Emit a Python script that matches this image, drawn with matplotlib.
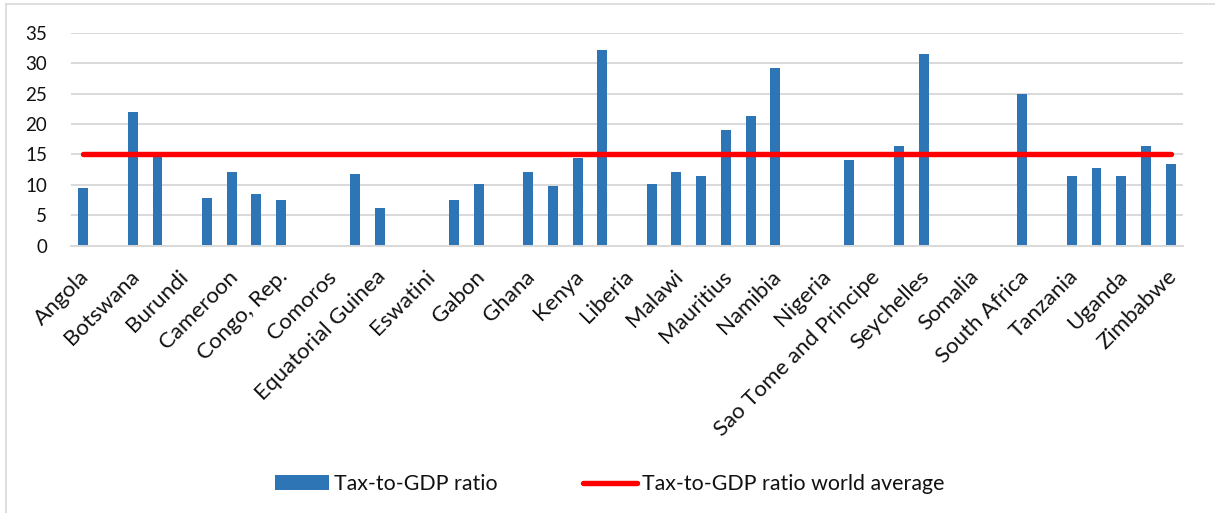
import numpy as np
import matplotlib
matplotlib.use("Agg")
import matplotlib.pyplot as plt
import matplotlib.transforms as mtransforms
from matplotlib.lines import Line2D

plt.rcParams['font.family'] = ['Lato', 'DejaVu Sans']

countries = [
    "Angola", "Benin", "Botswana", "Burkina Faso", "Burundi", "Cabo Verde",
    "Cameroon", "Central African Republic", "Congo, Rep.", "Chad", "Comoros",
    "Cote d'Ivoire", "Equatorial Guinea", "Eritrea", "Eswatini", "Ethiopia",
    "Gabon", "Gambia, The", "Ghana", "Guinea", "Kenya", "Lesotho", "Liberia",
    "Madagascar", "Malawi", "Mali", "Mauritius", "Mozambique", "Namibia",
    "Niger", "Nigeria", "Rwanda", "Sao Tome and Principe", "Senegal",
    "Seychelles", "Sierra Leone", "Somalia", "South Sudan", "South Africa",
    "Sudan", "Tanzania", "Togo", "Uganda", "Zambia", "Zimbabwe",
]

tax_to_gdp = [
    9.5, np.nan, 22.0, 14.6, np.nan, 7.8,
    12.1, 8.5, 7.5, np.nan, np.nan,
    11.8, 6.2, np.nan, np.nan, 7.5,
    10.1, np.nan, 12.1, 9.8, 14.4, 32.2, np.nan,
    10.1, 12.1, 11.5, 19.0, 21.3, 29.2,
    np.nan, np.nan, 14.1, np.nan, 16.4,
    31.5, np.nan, np.nan, np.nan, 24.9,
    np.nan, 11.5, 12.8, 11.5, 16.4, 13.4,
]

world_average = [15.0] * len(countries)

bar_color = "#2e75b6"
line_color = "#ff0000"
grid_color = "#d9d9d9"

fig = plt.figure(figsize=(12.15, 5.13), dpi=100)
ax = fig.add_axes([0.0584, 0.521, 0.9153, 0.4153])

x = np.arange(len(countries))
bars = ax.bar(x, tax_to_gdp, width=0.4, color=bar_color, zorder=2,
              label="Tax-to-GDP ratio")
avg_line, = ax.plot(x, world_average, color=line_color, lw=3.9,
                    solid_capstyle="round", zorder=3,
                    label="Tax-to-GDP ratio world average")

ax.set_xlim(-0.5, len(countries) - 0.5)
ax.set_ylim(0, 35)
ax.set_yticks(np.arange(0, 36, 5))
ax.yaxis.grid(True, color=grid_color, lw=1.4, zorder=0)
ax.set_axisbelow(True)
for side in ("top", "right", "left"):
    ax.spines[side].set_visible(False)
ax.spines["bottom"].set_color(grid_color)
ax.spines["bottom"].set_linewidth(1.4)

ax.set_xticks(x[::2])
ax.set_xticklabels(countries[::2], rotation=45, ha="right",
                   rotation_mode="anchor", fontsize=16, color="#111111")
ax.tick_params(axis="x", length=0, pad=15)
ax.tick_params(axis="y", length=0, pad=17, labelsize=13.5,
               labelcolor="#111111")

# nudge the rotated category labels slightly left
shift = mtransforms.ScaledTranslation(-4 / 100, 0, fig.dpi_scale_trans)
for lbl in ax.get_xticklabels():
    lbl.set_transform(lbl.get_transform() + shift)

# Chart-area frame (top and left edges)
fig.add_artist(Line2D([6 / 1215, 1], [1 - 4 / 513, 1 - 4 / 513],
                      color=grid_color, lw=1.2, transform=fig.transFigure))
fig.add_artist(Line2D([6 / 1215, 6 / 1215], [0, 1 - 4 / 513],
                      color=grid_color, lw=1.2, transform=fig.transFigure))

fig.legend([bars, avg_line],
           ["Tax-to-GDP ratio", "Tax-to-GDP ratio world average"],
           loc="center", bbox_to_anchor=(0.502, 0.0565),
           ncol=2, frameon=False, fontsize=15.4, handlelength=2.5,
           handleheight=0.65, handletextpad=0.25, columnspacing=4.0,
           labelcolor="#111111")

fig.savefig("out.png", dpi=100)
